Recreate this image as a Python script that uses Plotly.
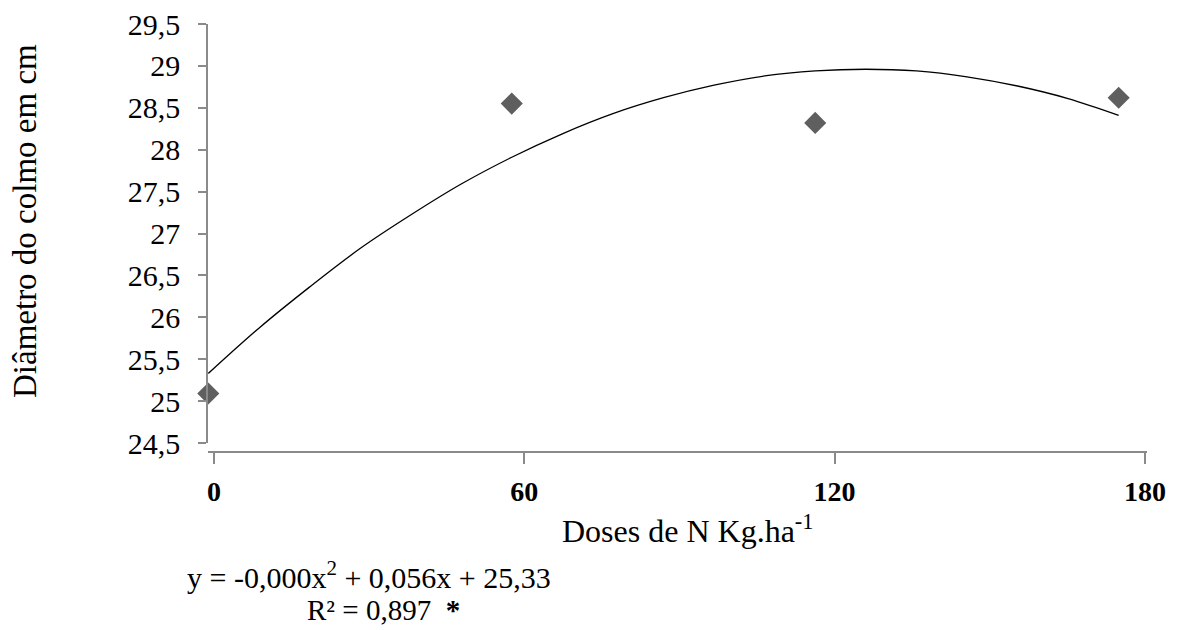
import plotly.graph_objects as go

# Observed data (dose of N, kg/ha) and stem diameter (cm)
doses = [0, 60, 120, 180]
diametro = [25.09, 28.55, 28.32, 28.62]

# Trend line
curve_x = [0, 10, 20, 30, 40, 50, 60, 70, 80, 90, 100, 110, 120, 130, 140, 150, 160, 170, 180]
curve_y = [25.33, 25.87, 26.36, 26.82, 27.22, 27.59, 27.91, 28.19, 28.43, 28.62,
           28.77, 28.88, 28.94, 28.96, 28.94, 28.87, 28.76, 28.61, 28.41]

x_ticks = [0, 60, 120, 180]
x_ticktext = ["0", "60", "120", "180"]
y_ticks = [24.5, 25, 25.5, 26, 26.5, 27, 27.5, 28, 28.5, 29, 29.5]

equation = "y = -0,000x<sup>2</sup> + 0,056x + 25,33"
r2_text = "R² = 0,897  <b>*</b>"
x_title = "Doses de N Kg.ha<sup>-1</sup>"
y_title = "Diâmetro do colmo em cm"

FONT = "Liberation Serif"
OFF = 8  # page body margin
W, H = 1183 - OFF, 630 - OFF
L, R, T, B = 208 - OFF, 36, 24 - OFF, 178
plot_w = W - L - R
plot_h = H - T - B

def px_x(px):
    return (px - OFF - L) / plot_w

def px_y(py):
    return (H - B - (py - OFF)) / plot_h

fig = go.Figure()
fig.add_trace(go.Scatter(
    x=curve_x, y=curve_y, mode="lines", line=dict(color="black", width=1.3, shape="spline"),
    hoverinfo="skip", showlegend=False, cliponaxis=False,
))
fig.add_trace(go.Scatter(
    x=doses, y=diametro, mode="markers",
    marker=dict(symbol="diamond", size=17, color="#5f5f5f"),
    showlegend=False, cliponaxis=False,
))
# empty trace that carries the displayed dose axis
fig.add_trace(go.Scatter(
    x=x_ticks, y=[None] * len(x_ticks), xaxis="x2", yaxis="y", mode="markers",
    hoverinfo="skip", showlegend=False,
))

fig.update_layout(
    width=W, height=H,
    margin=dict(l=L, r=R, t=T, b=B, pad=0),
    paper_bgcolor="white", plot_bgcolor="white",
    separators=",.",
    font=dict(family=FONT, color="black", size=28),
    showlegend=False,
    xaxis=dict(
        range=[-0.06, 185.6], visible=False, showgrid=False, zeroline=False,
        automargin=False,
    ),
    xaxis2=dict(
        overlaying="x", anchor="free", position=0, side="bottom",
        range=[-1.16, 180.4], tickmode="array", tickvals=x_ticks, ticktext=x_ticktext,
        showline=True, linecolor="#8a8a8a", linewidth=1.5,
        ticks="outside", ticklen=11, tickwidth=1.5, tickcolor="#8a8a8a",
        tickfont=dict(family=FONT, size=28, color="black", weight="bold"),
        ticklabelstandoff=4, automargin=False, ticklabeloverflow="allow",
        showgrid=False, zeroline=False,
    ),
    yaxis=dict(
        domain=[9 / plot_h, 1], range=[24.5, 29.5],
        tickmode="array", tickvals=y_ticks,
        showline=True, linecolor="#8a8a8a", linewidth=1.5,
        ticks="outside", ticklen=8, tickwidth=1.5, tickcolor="#8a8a8a",
        tickfont=dict(family=FONT, size=30, color="black"),
        ticklabelstandoff=12, automargin=False, ticklabeloverflow="allow",
        showgrid=False, zeroline=False,
    ),
    annotations=[
        dict(text=y_title, xref="paper", yref="paper", x=px_x(25), y=px_y(221),
             textangle=-90, showarrow=False, xanchor="center", yanchor="middle",
             font=dict(family=FONT, size=33, color="black")),
        dict(text=x_title, xref="paper", yref="paper", x=px_x(688), y=px_y(529),
             showarrow=False, xanchor="center", yanchor="middle",
             font=dict(family=FONT, size=32, color="black")),
        dict(text=equation, xref="paper", yref="paper", x=px_x(369), y=px_y(575),
             showarrow=False, xanchor="center", yanchor="middle",
             font=dict(family=FONT, size=30, color="black")),
        dict(text=r2_text, xref="paper", yref="paper", x=px_x(383), y=px_y(610),
             showarrow=False, xanchor="center", yanchor="middle",
             font=dict(family=FONT, size=29, color="black")),
    ],
)

fig.write_html("out.html")
